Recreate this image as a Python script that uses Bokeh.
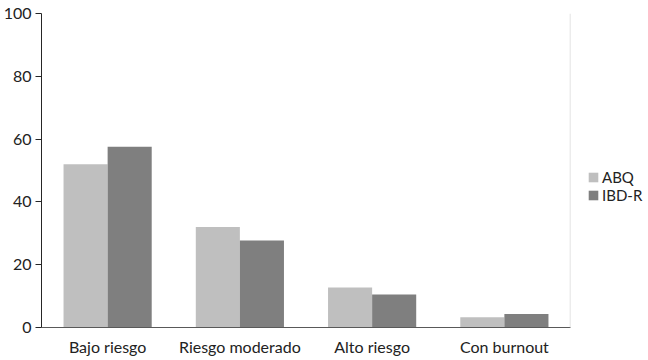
from bokeh.plotting import figure
from bokeh.models import ColumnDataSource, FactorRange, Span, Legend, LegendItem
from bokeh.transform import dodge
from bokeh.embed import file_html
from bokeh.resources import INLINE

categories = ["Bajo riesgo", "Riesgo moderado", "Alto riesgo", "Con burnout"]
abq = [52.0, 32.0, 12.7, 3.3]
ibdr = [57.6, 27.7, 10.5, 4.3]
y_ticks = [0, 20, 40, 60, 80, 100]

source = ColumnDataSource(dict(cat=categories, abq=abq, ibdr=ibdr))

FONT = "Lato"

p = figure(x_range=FactorRange(*categories, range_padding=0), y_range=(0, 100),
           frame_width=529, frame_height=314, output_backend="svg", toolbar_location=None,
           min_border_left=33, min_border_top=13, min_border_right=68, min_border_bottom=0)

r1 = p.vbar(x=dodge("cat", -1/6, range=p.x_range), top="abq", width=1/3, source=source,
            fill_color="#bfbfbf", line_color=None)
r2 = p.vbar(x=dodge("cat", 1/6, range=p.x_range), top="ibdr", width=1/3, source=source,
            fill_color="#7f7f7f", line_color=None)

p.xgrid.visible = False
p.ygrid.visible = False
p.outline_line_color = None

p.add_layout(Span(location=4, dimension="height", line_color="#d9d9d9", line_width=1.5))

p.yaxis.ticker = y_ticks
p.yaxis.axis_line_color = "#262626"
p.yaxis.major_tick_line_color = "#262626"
p.yaxis.major_tick_out = 6
p.yaxis.major_tick_in = 0
p.yaxis.minor_tick_line_color = None
p.yaxis.major_label_text_font = FONT
p.yaxis.major_label_text_font_size = "16px"
p.yaxis.major_label_text_color = "#222222"
p.yaxis.major_label_standoff = 4

p.xaxis.axis_line_color = "#595959"
p.xaxis.major_tick_line_color = None
p.xaxis.minor_tick_line_color = None
p.xaxis.major_label_text_font = FONT
p.xaxis.major_label_text_font_size = "16px"
p.xaxis.major_label_text_color = "#222222"
p.xaxis.major_label_standoff = 3

legend = Legend(items=[LegendItem(label="ABQ", renderers=[r1]),
                       LegendItem(label="IBD-R", renderers=[r2])],
                location=(17, 123), border_line_color=None, background_fill_alpha=0,
                label_text_font=FONT, label_text_font_size="15px", label_text_color="#222222",
                glyph_width=12, glyph_height=12, label_standoff=3, spacing=0,
                padding=4, margin=0)
p.add_layout(legend, "right")

open("out.html", "w").write(file_html(p, INLINE))
